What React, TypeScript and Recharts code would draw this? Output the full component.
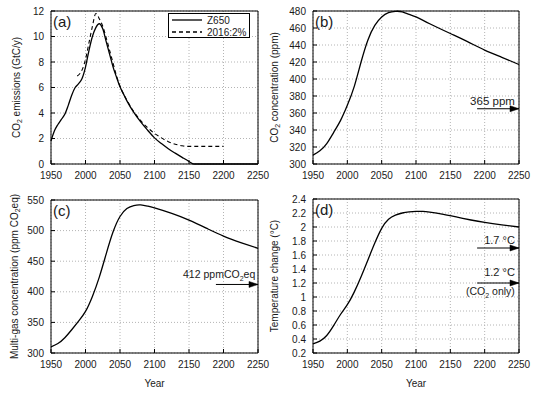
import React from 'react';
import {
  LineChart,
  Line,
  XAxis,
  YAxis,
  CartesianGrid,
  ReferenceArea,
  ReferenceDot,
  Legend,
} from 'recharts';

// ---------- shared ----------
const yearTicks = [1950, 2000, 2050, 2100, 2150, 2200, 2250];
const yearDomain = [1950, 2250];
const arrowYears = [2189, 2250];
const arrowLabelYear = 2244;

// ---------- (a) CO2 emissions ----------
const seriesNames = ['Z650', '2016:2%'];
const emissionTicks = [0, 2, 4, 6, 8, 10, 12];
const z650Years = [1950, 1955, 1960, 1965, 1970, 1975, 1980, 1985, 1990, 1995, 2000, 2005, 2010, 2015, 2020, 2025, 2030, 2035, 2040, 2045, 2050, 2055, 2060, 2070, 2080, 2090, 2100, 2110, 2120, 2130, 2140, 2150, 2157, 2200, 2250];
const z650Emissions = [1.8, 2.6, 3.1, 3.5, 3.9, 4.6, 5.4, 6.0, 6.3, 6.7, 7.6, 8.9, 10.0, 10.7, 11.0, 10.6, 9.6, 8.6, 7.6, 6.8, 6.05, 5.5, 4.95, 4.05, 3.3, 2.65, 2.05, 1.6, 1.2, 0.85, 0.52, 0.2, 0, 0, 0];
const path2016Years = [1988, 1992, 1996, 2000, 2005, 2010, 2015, 2020, 2025, 2030, 2035, 2040, 2045, 2050, 2060, 2070, 2080, 2090, 2100, 2110, 2120, 2130, 2140, 2150, 2175, 2200];
const path2016Emissions = [6.9, 7.1, 7.5, 8.2, 9.5, 10.8, 11.8, 11.4, 10.8, 9.9, 8.9, 7.9, 6.9, 6.1, 5.0, 4.1, 3.4, 2.85, 2.4, 2.05, 1.75, 1.55, 1.43, 1.38, 1.38, 1.38];

// ---------- (b) CO2 concentration ----------
const co2Ticks = [300, 320, 340, 360, 380, 400, 420, 440, 460, 480];
const co2Years = [1950, 1960, 1970, 1980, 1990, 2000, 2010, 2020, 2030, 2040, 2050, 2060, 2070, 2080, 2090, 2100, 2120, 2150, 2175, 2200, 2225, 2250];
const co2Ppm = [310.5, 315.5, 324, 337, 351, 369, 391, 420, 446, 463, 473, 478, 479.6, 479, 476, 473, 465, 453.5, 444, 434, 425.5, 417];
const co2Reference = 365;

// ---------- (c) Multi-gas concentration ----------
const multiTicks = [300, 350, 400, 450, 500, 550];
const multiYears = [1950, 1960, 1970, 1980, 1990, 2000, 2010, 2020, 2030, 2040, 2050, 2060, 2070, 2080, 2090, 2100, 2125, 2150, 2175, 2200, 2225, 2250];
const multiPpm = [310, 315.5, 325, 338, 352, 368, 392.5, 424, 462, 498, 523, 536, 541, 542, 540, 537, 528, 517, 504, 491, 480.5, 471];
const multiReference = 412;

// ---------- (d) Temperature change ----------
const tempTicks = [0.2, 0.4, 0.6, 0.8, 1, 1.2, 1.4, 1.6, 1.8, 2, 2.2, 2.4];
const tempYears = [1950, 1960, 1970, 1980, 1990, 2000, 2010, 2020, 2030, 2040, 2050, 2060, 2070, 2080, 2090, 2100, 2110, 2120, 2140, 2160, 2180, 2200, 2225, 2250];
const tempChange = [0.33, 0.37, 0.45, 0.59, 0.75, 0.89, 1.07, 1.29, 1.53, 1.77, 1.98, 2.11, 2.17, 2.2, 2.215, 2.222, 2.222, 2.212, 2.18, 2.14, 2.1, 2.065, 2.03, 2.0];
const tempReferenceAll = 1.7;
const tempReferenceCO2 = 1.2;

const zip = (xs: number[], ys: number[]) => xs.map((x, i) => ({ year: x, v: ys[i] }));
const flat = (xs: number[], v: number) => xs.map((x) => ({ year: x, v }));

const FONT = '"Liberation Sans", Arial, Helvetica, sans-serif';
const TEXT = '#1a1a1a';

const ArrowHead = (p: any) => {
  if (p.index !== 1) return <g key={`n${p.index}`} />;
  const { cx, cy } = p;
  return (
    <path
      key={`ah${p.index}`}
      d={`M${cx},${cy} L${cx - 9},${cy - 3} L${cx - 9},${cy + 3} Z`}
      fill="#000"
      stroke="#000"
      strokeWidth={0.5}
    />
  );
};

const YTitle = (props: any) => {
  const vb = props.viewBox || {};
  const cy = vb.y + vb.height / 2;
  return (
    <text
      transform={`translate(${props.px},${cy}) rotate(-90)`}
      textAnchor="middle"
      dominantBaseline="central"
      fontSize={10}
      fill={TEXT}
    >
      {props.content2}
    </text>
  );
};

const XTitle = (props: any) => {
  const vb = props.viewBox || {};
  return (
    <text
      x={vb.x + vb.width / 2}
      y={vb.y + 30}
      textAnchor="middle"
      dominantBaseline="central"
      fontSize={10}
      fill={TEXT}
    >
      Year
    </text>
  );
};

const Letter = (props: any) => {
  const vb = props.viewBox || {};
  return (
    <text x={vb.x + 2} y={vb.y + 16} fontSize={15} fill={TEXT}>
      {props.text}
    </text>
  );
};

const sub2 = (before: string, after: string) => (
  <>
    <tspan>{before}</tspan>
    <tspan dy={3} fontSize={7}>2</tspan>
    <tspan dy={-3}>{after}</tspan>
  </>
);

function Panel(props: any) {
  const { left, top, width, height, margin, yAxisWidth, yDomain, yTicks, letter, yTitle, yTitleX, showYear, children } = props;
  return (
    <div style={{ position: 'absolute', left, top }}>
      <LineChart width={width} height={height} margin={margin}>
        <CartesianGrid stroke="#b4b4b4" strokeDasharray="1 2" />
        <XAxis
          xAxisId={0}
          type="number"
          dataKey="year"
          domain={yearDomain}
          ticks={yearTicks}
          interval={0}
          axisLine={false}
          tickSize={-4}
          tickMargin={12}
          tickLine={{ stroke: '#000' }}
          tick={{ fontSize: 10, fill: TEXT }}
          height={20}
          label={showYear ? <XTitle /> : undefined}
        />
        <XAxis
          xAxisId="top"
          orientation="top"
          type="number"
          domain={yearDomain}
          ticks={yearTicks}
          interval={0}
          axisLine={false}
          tickSize={-4}
          tickLine={{ stroke: '#000' }}
          tickFormatter={() => ''}
          height={0}
        />
        <YAxis
          yAxisId={0}
          type="number"
          domain={yDomain}
          ticks={yTicks}
          interval={0}
          width={yAxisWidth}
          axisLine={false}
          tickSize={-4}
          tickMargin={11}
          tickLine={{ stroke: '#000' }}
          tick={{ fontSize: 10, fill: TEXT }}
          label={<YTitle px={yTitleX} content2={yTitle} />}
        />
        <YAxis
          yAxisId="right"
          orientation="right"
          type="number"
          domain={yDomain}
          ticks={yTicks}
          interval={0}
          width={0}
          axisLine={false}
          tickSize={-4}
          tickLine={{ stroke: '#000' }}
          tickFormatter={() => ''}
        />
        <ReferenceArea
          x1={yearDomain[0]}
          x2={yearDomain[1]}
          y1={yDomain[0]}
          y2={yDomain[1]}
          fill="none"
          fillOpacity={0}
          stroke="#000"
          strokeWidth={1}
          label={<Letter text={letter} />}
        />
        {children}
      </LineChart>
    </div>
  );
}

const LegendContent = (props: any) => {
  const payload = (props.payload || [])
    .filter((e: any) => e.type !== 'none')
    .sort((a: any, b: any) => seriesNames.indexOf(a.value) - seriesNames.indexOf(b.value));
  return (
    <div style={{ width: 82, height: 25, border: '1px solid #000', background: '#fff', boxSizing: 'border-box' }}>
      <svg width={80} height={23} style={{ display: 'block' }}>
        {payload.map((e: any, i: number) => {
          const y = 6 + i * 12;
          const dash = e.payload?.strokeDasharray;
          return (
            <g key={i}>
              <line x1={3} x2={33} y1={y} y2={y} stroke="#000" strokeWidth={1.3} strokeDasharray={dash} />
              <text x={38} y={y} dominantBaseline="central" fontSize={10} fill={TEXT} fontFamily={FONT}>
                {e.value}
              </text>
            </g>
          );
        })}
      </svg>
    </div>
  );
};

const RefText = (text: React.ReactNode, dy: number, fontSize: number) => (p: any) => (
  <text x={p.cx} y={p.cy + dy} textAnchor="end" fontSize={fontSize} fill={TEXT}>
    {text}
  </text>
);

export default function App() {
  return (
    <div style={{ position: 'absolute', left: 0, top: 0, width: 540, height: 393, background: '#fff', fontFamily: FONT }}>
      {/* (a) */}
      <Panel
        left={0}
        top={0}
        width={270}
        height={195}
        margin={{ top: 11, right: 12, bottom: 11, left: 0 }}
        yAxisWidth={51}
        yDomain={[0, 12]}
        yTicks={emissionTicks}
        letter="(a)"
        yTitle={sub2('CO', ' emissions (GtC/y)')}
        yTitleX={16}
        showYear={false}
      >
        <Line
          data={zip(z650Years, z650Emissions)}
          dataKey="v"
          name={seriesNames[0]}
          type="monotone"
          stroke="#000"
          strokeWidth={1.3}
          dot={false}
          isAnimationActive={false}
        />
        <Line
          data={zip(path2016Years, path2016Emissions)}
          dataKey="v"
          name={seriesNames[1]}
          type="monotone"
          stroke="#000"
          strokeWidth={1.1}
          strokeDasharray="4 3"
          dot={false}
          isAnimationActive={false}
        />
        <Legend
          layout="vertical"
          align="center"
          verticalAlign="middle"
          itemSorter={null as any}
          content={<LegendContent />}
          wrapperStyle={{ left: 168, top: 13, width: 82, height: 25 }}
        />
      </Panel>

      {/* (b) */}
      <Panel
        left={262}
        top={0}
        width={278}
        height={195}
        margin={{ top: 11, right: 21, bottom: 11, left: 0 }}
        yAxisWidth={51}
        yDomain={[300, 480]}
        yTicks={co2Ticks}
        letter="(b)"
        yTitle={sub2('CO', ' concentration (ppm)')}
        yTitleX={12}
        showYear={false}
      >
        <Line
          data={zip(co2Years, co2Ppm)}
          dataKey="v"
          type="natural"
          stroke="#000"
          strokeWidth={1.3}
          dot={false}
          isAnimationActive={false}
          legendType="none"
        />
        <Line
          data={flat(arrowYears, co2Reference)}
          dataKey="v"
          stroke="#000"
          strokeWidth={1}
          dot={ArrowHead}
          isAnimationActive={false}
          legendType="none"
        />
        <ReferenceDot x={arrowLabelYear} y={co2Reference} r={0} shape={RefText('365 ppm', -4, 11.5)} />
      </Panel>

      {/* (c) */}
      <Panel
        left={0}
        top={190}
        width={270}
        height={203}
        margin={{ top: 10, right: 12, bottom: 20, left: 0 }}
        yAxisWidth={51}
        yDomain={[300, 550]}
        yTicks={multiTicks}
        letter="(c)"
        yTitle={sub2('Multi-gas concentration (ppm CO', 'eq)')}
        yTitleX={14}
        showYear={true}
      >
        <Line
          data={zip(multiYears, multiPpm)}
          dataKey="v"
          type="natural"
          stroke="#000"
          strokeWidth={1.3}
          dot={false}
          isAnimationActive={false}
          legendType="none"
        />
        <Line
          data={flat(arrowYears, multiReference)}
          dataKey="v"
          stroke="#000"
          strokeWidth={1}
          dot={ArrowHead}
          isAnimationActive={false}
          legendType="none"
        />
        <ReferenceDot x={2246} y={multiReference} r={0} shape={RefText(sub2('412 ppmCO', 'eq'), -6, 10.5)} />
      </Panel>

      {/* (d) */}
      <Panel
        left={262}
        top={190}
        width={278}
        height={203}
        margin={{ top: 9, right: 21, bottom: 20, left: 0 }}
        yAxisWidth={51}
        yDomain={[0.2, 2.4]}
        yTicks={tempTicks}
        letter="(d)"
        yTitle="Temperature change (°C)"
        yTitleX={12}
        showYear={true}
      >
        <Line
          data={zip(tempYears, tempChange)}
          dataKey="v"
          type="natural"
          stroke="#000"
          strokeWidth={1.3}
          dot={false}
          isAnimationActive={false}
          legendType="none"
        />
        <Line
          data={flat(arrowYears, tempReferenceAll)}
          dataKey="v"
          stroke="#000"
          strokeWidth={1}
          dot={ArrowHead}
          isAnimationActive={false}
          legendType="none"
        />
        <Line
          data={flat(arrowYears, tempReferenceCO2)}
          dataKey="v"
          stroke="#000"
          strokeWidth={1}
          dot={ArrowHead}
          isAnimationActive={false}
          legendType="none"
        />
        <ReferenceDot x={arrowLabelYear} y={tempReferenceAll} r={0} shape={RefText('1.7 °C', -4, 11)} />
        <ReferenceDot x={arrowLabelYear} y={tempReferenceCO2} r={0} shape={RefText('1.2 °C', -7, 11)} />
        <ReferenceDot x={arrowLabelYear} y={tempReferenceCO2} r={0} shape={RefText(sub2('(CO', ' only)'), 12, 10.5)} />
      </Panel>
    </div>
  );
}
